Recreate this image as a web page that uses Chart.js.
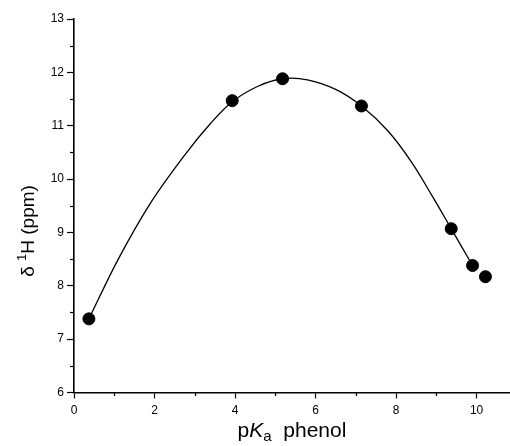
<!DOCTYPE html>
<html><head><meta charset="utf-8">
<script src="https://cdn.jsdelivr.net/npm/chart.js@4"></script>
<style>html,body{margin:0;padding:0;background:#fff;overflow:hidden}</style>
</head><body>
<canvas id="c" width="510" height="446"></canvas>
<script>
// measured points (pKa of phenol vs 1H shift)
const pKa   = [0.37, 3.93, 5.18, 7.14, 9.37, 9.90, 10.22];
const shift = [7.38, 11.47, 11.88, 11.37, 9.07, 8.38, 8.17];
// fitted curve
const fitX = [0.37, 1.1, 1.9, 2.75, 3.4, 3.93, 4.57, 5.18, 5.8, 6.5, 7.14, 7.8, 8.4, 8.9, 9.37, 9.9];
const fitY = [7.38, 8.5, 9.55, 10.45, 11.05, 11.45, 11.74, 11.88, 11.86, 11.68, 11.37, 10.9, 10.3, 9.68, 9.07, 8.38];
// tick labels
const xTicks = [0, 2, 4, 6, 8, 10];
const yTicks = [6, 7, 8, 9, 10, 11, 12, 13];
const xMin = 0, xMax = 10.83, yMin = 6, yMax = 13;

const FONT = '"Liberation Sans", Arial, sans-serif';

const deco = {
  id: 'deco',
  afterDraw(chart) {
    const {ctx, scales: {x, y}} = chart;
    ctx.save();
    ctx.strokeStyle = '#000';
    ctx.lineWidth = 1.2;
    // minor ticks at midpoints between labelled ticks
    for (let i = 0; i < yTicks.length - 1; i++) {
      const v = (yTicks[i] + yTicks[i + 1]) / 2;
      const py = Math.round(y.getPixelForValue(v)) + 0.5;
      ctx.beginPath(); ctx.moveTo(x.left - 4, py); ctx.lineTo(x.left, py); ctx.stroke();
    }
    for (let i = 0; i < xTicks.length; i++) {
      const v = xTicks[i] + 1;
      if (v > xMax) break;
      const px = Math.round(x.getPixelForValue(v)) + 0.5;
      ctx.beginPath(); ctx.moveTo(px, y.bottom); ctx.lineTo(px, y.bottom + 3.5); ctx.stroke();
    }
    // x title: p K(italic) a(subscript)  phenol
    ctx.fillStyle = '#000';
    ctx.textBaseline = 'alphabetic';
    ctx.textAlign = 'left';
    const parts = [
      {t: 'p', f: '21px ' + FONT, dy: 0},
      {t: 'K', f: 'italic 21px ' + FONT, dy: 0},
      {t: 'a', f: '15px ' + FONT, dy: 4},
      {t: '  phenol', f: '21px ' + FONT, dy: 0}
    ];
    let w = 0;
    parts.forEach(p => { ctx.font = p.f; p.w = ctx.measureText(p.t).width; w += p.w; });
    let cx = (x.left + x.right) / 2 - w / 2;
    const by = 437;
    parts.forEach(p => { ctx.font = p.f; ctx.fillText(p.t, cx, by + p.dy); cx += p.w; });
    // y title: δ ¹H (ppm), rotated
    ctx.translate(34, 231);
    ctx.rotate(-Math.PI / 2);
    const yparts = [
      {t: 'δ ', f: '19px ' + FONT, dy: 0},
      {t: '1', f: '13px ' + FONT, dy: -8},
      {t: 'H (ppm)', f: '19px ' + FONT, dy: 0}
    ];
    w = 0;
    yparts.forEach(p => { ctx.font = p.f; p.w = ctx.measureText(p.t).width; w += p.w; });
    cx = -w / 2;
    yparts.forEach(p => { ctx.font = p.f; ctx.fillText(p.t, cx, p.dy); cx += p.w; });
    ctx.restore();
  }
};

new Chart(document.getElementById('c'), {
  data: {
    datasets: [
      {
        type: 'line',
        data: fitX.map((v, i) => ({x: v, y: fitY[i]})),
        borderColor: '#000',
        borderWidth: 1.3,
        pointRadius: 0,
        tension: 0.35,
        fill: false,
        order: 2
      },
      {
        type: 'scatter',
        data: pKa.map((v, i) => ({x: v, y: shift[i]})),
        backgroundColor: '#000',
        borderColor: '#000',
        pointRadius: 6,
        order: 1
      }
    ]
  },
  options: {
    responsive: false,
    devicePixelRatio: 1,
    animation: false,
    layout: {autoPadding: false, padding: {top: 19, right: 0, bottom: 0, left: 0}},
    plugins: {legend: {display: false}, tooltip: {enabled: false}},
    scales: {
      x: {
        type: 'linear', min: xMin, max: xMax,
        afterBuildTicks: s => { s.ticks = xTicks.map(v => ({value: v})); },
        afterFit: s => { s.height = 53.5; s.paddingLeft = 0; s.paddingRight = 0; },
        grid: {drawOnChartArea: false, drawTicks: true, tickLength: 6, color: '#000', tickWidth: 1.2},
        border: {display: true, color: '#000', width: 1.6},
        ticks: {color: '#000', font: {family: FONT, size: 12}, padding: 5, maxRotation: 0}
      },
      y: {
        type: 'linear', min: yMin, max: yMax,
        afterBuildTicks: s => { s.ticks = yTicks.map(v => ({value: v})); },
        afterFit: s => { s.width = 74; s.paddingTop = 0; s.paddingBottom = 0; },
        grid: {drawOnChartArea: false, drawTicks: true, tickLength: 7, color: '#000', tickWidth: 1.2},
        border: {display: true, color: '#000', width: 1.6},
        ticks: {color: '#000', font: {family: FONT, size: 12}, padding: 3}
      }
    }
  },
  plugins: [deco]
});
</script>
</body></html>
